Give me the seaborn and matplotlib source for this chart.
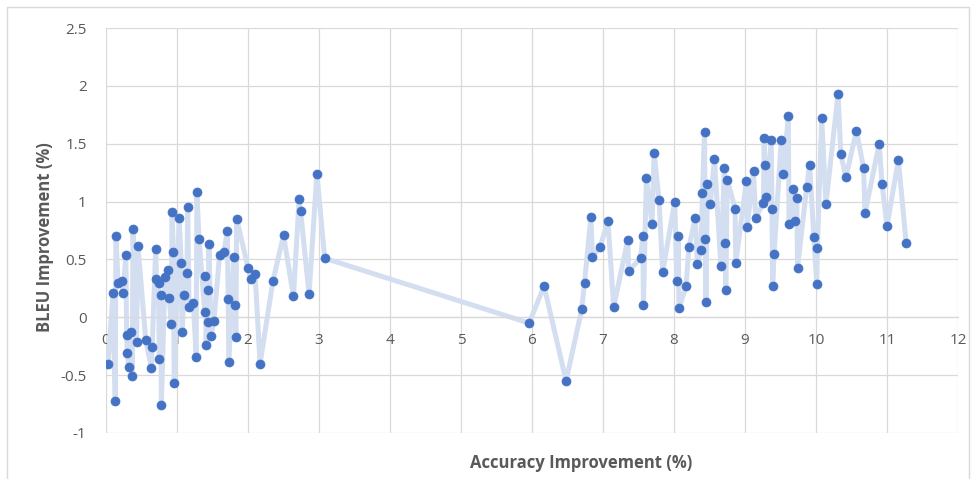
import matplotlib
matplotlib.use("Agg")
import matplotlib.pyplot as plt
import seaborn as sns
import pandas as pd
from matplotlib.patches import Rectangle

# Accuracy improvement (%) values
acc = [0.03, 0.10, 0.13, 0.14, 0.17, 0.23, 0.24, 0.28, 0.29, 0.30, 0.32, 0.35, 0.37, 0.38,
       0.43, 0.45, 0.56, 0.64, 0.65, 0.70, 0.71, 0.74, 0.75, 0.77, 0.78, 0.83, 0.88, 0.89,
       0.92, 0.93, 0.95, 0.96, 1.03, 1.06, 1.07, 1.10, 1.14, 1.15, 1.17, 1.23, 1.27, 1.28,
       1.31, 1.39, 1.40, 1.41, 1.43, 1.44, 1.45, 1.48, 1.52, 1.60, 1.66, 1.71, 1.72, 1.73,
       1.80, 1.81, 1.83, 1.84, 2.00, 2.04, 2.10, 2.17, 2.35, 2.50, 2.64, 2.72, 2.74, 2.86,
       2.97, 3.08,
       5.96, 6.17, 6.48, 6.70, 6.74, 6.83, 6.85, 6.96, 7.07, 7.15, 7.35, 7.36, 7.53, 7.56,
       7.57, 7.61, 7.69, 7.72, 7.79, 7.84, 8.01, 8.04, 8.06, 8.07, 8.17, 8.21, 8.30, 8.33,
       8.38, 8.40, 8.43, 8.44, 8.45, 8.47, 8.51, 8.57, 8.66, 8.71, 8.72, 8.73, 8.75, 8.86,
       8.87, 9.02, 9.03, 9.12, 9.15, 9.26, 9.27, 9.28, 9.30, 9.37, 9.38, 9.39, 9.41, 9.51,
       9.54, 9.61, 9.62, 9.67, 9.70, 9.73, 9.74, 9.87, 9.91, 9.97, 10.01, 10.02, 10.08,
       10.14, 10.31, 10.35, 10.42, 10.57, 10.67, 10.69, 10.89, 10.93, 11.00, 11.16, 11.27]

# BLEU improvement (%) values
bleu = [-0.40, 0.21, -0.72, 0.70, 0.30, 0.31, 0.21, 0.54, -0.15, -0.31, -0.43, -0.13, -0.51, 0.76,
        -0.21, 0.62, -0.20, -0.44, -0.26, 0.59, 0.33, 0.30, -0.36, 0.19, -0.76, 0.35, 0.41, 0.17,
        -0.06, 0.91, 0.56, -0.57, 0.86, 0.47, -0.13, 0.19, 0.38, 0.95, 0.09, 0.12, -0.34, 1.08,
        0.68, 0.05, 0.36, -0.24, 0.24, -0.04, 0.63, -0.16, -0.03, 0.54, 0.56, 0.75, 0.16, -0.39,
        0.52, 0.11, -0.17, 0.85, 0.43, 0.33, 0.37, -0.40, 0.31, 0.71, 0.18, 1.02, 0.92, 0.20,
        1.24, 0.51,
        -0.05, 0.27, -0.55, 0.07, 0.30, 0.87, 0.52, 0.61, 0.83, 0.09, 0.67, 0.40, 0.51, 0.70,
        0.11, 1.20, 0.81, 1.42, 1.01, 0.39, 1.00, 0.31, 0.70, 0.08, 0.27, 0.61, 0.86, 0.46,
        0.58, 1.07, 1.60, 0.68, 0.13, 1.15, 0.98, 1.37, 0.44, 1.29, 0.64, 0.24, 1.19, 0.94,
        0.47, 1.18, 0.78, 1.26, 0.86, 0.99, 1.55, 1.32, 1.04, 1.53, 0.94, 0.27, 0.55, 1.53,
        1.24, 1.74, 0.81, 1.11, 0.83, 1.03, 0.43, 1.13, 1.32, 0.69, 0.29, 0.60, 1.72,
        0.98, 1.93, 1.41, 1.21, 1.61, 1.29, 0.90, 1.50, 1.15, 0.79, 1.36, 0.64]

x_ticks = [0, 1, 2, 3, 4, 5, 6, 7, 8, 9, 10, 11, 12]
y_ticks = [-1, -0.5, 0, 0.5, 1, 1.5, 2, 2.5]
y_labels = ["-1", "-0.5", "0", "0.5", "1", "1.5", "2", "2.5"]

df = pd.DataFrame({"acc": acc, "bleu": bleu, "order": range(len(acc))})

sns.set_theme(style="white")
plt.rcParams["font.family"] = ["Open Sans", "DejaVu Sans"]

fig = plt.figure(figsize=(9.76, 4.79), dpi=100)
fig.patch.set_facecolor("white")
ax = fig.add_axes([106/976, 1 - 433/479, (958 - 106)/976, (433 - 28)/479])
ax.set_facecolor("white")

sns.lineplot(data=df, x="acc", y="bleu", sort=False, estimator=None, ax=ax,
             color="#D3DEF0", linewidth=3.6, zorder=2)
sns.scatterplot(data=df, x="acc", y="bleu", ax=ax, color="#4472C4", s=42,
                edgecolor="#4472C4", linewidth=0.5, zorder=3)

ax.set_xlim(0, 12)
ax.set_ylim(-1, 2.5)
ax.set_xticks(x_ticks)
ax.set_yticks(y_ticks)
ax.set_yticklabels(y_labels)
ax.grid(True, color="#D9D9D9", linewidth=0.9)
ax.set_axisbelow(True)
for s in ["top", "right", "left"]:
    ax.spines[s].set_visible(False)
ax.spines["bottom"].set_position(("data", 0))
ax.spines["bottom"].set_color("#D9D9D9")
ax.spines["bottom"].set_linewidth(0.9)
ax.tick_params(axis="both", length=0, labelsize=11, labelcolor="#595959")
ax.tick_params(axis="y", pad=14)
ax.tick_params(axis="x", pad=11)
ax.set_xlabel("")
ax.set_ylabel("")

fig.text(581/976, 1 - 463/479, "Accuracy Improvement (%)", ha="center", va="center",
         fontsize=12, fontweight="bold", color="#595959")
fig.text(45/976, 1 - 237/479, "BLEU Improvement (%)", ha="center", va="center",
         rotation=90, fontsize=12, fontweight="bold", color="#595959")

fig.patches.append(Rectangle((7/976, -0.02), (969 - 7)/976, 1 - 7/479 + 0.02,
                             transform=fig.transFigure, fill=False,
                             edgecolor="#D9D9D9", linewidth=1.0))

fig.savefig("out.png", dpi=100)
